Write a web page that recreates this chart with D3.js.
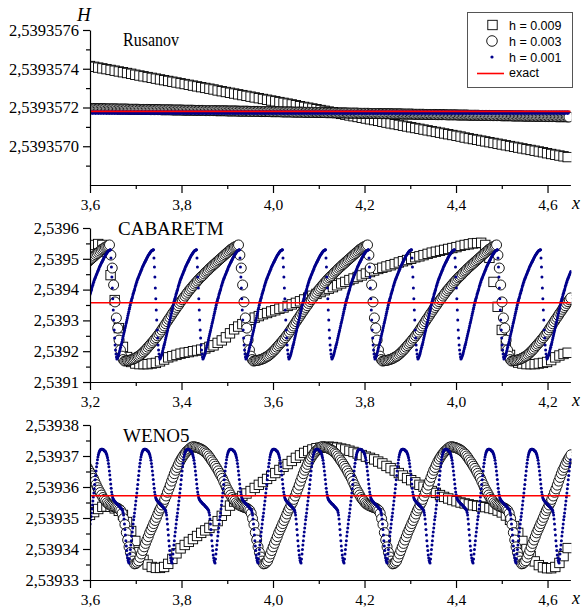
<!DOCTYPE html>
<html>
<head>
<meta charset="utf-8">
<script src="https://cdn.jsdelivr.net/npm/d3@7"></script>
<style>
  body { margin: 0; background: #fff; }
  svg { display: block; }
  .axis path, .axis line { stroke: #000; stroke-width: 1.2; }
  .axis text { font-family: "Liberation Serif", "Times New Roman", serif; fill: #000; }
  .yax text { font-size: 16.5px; }
  .xax text { font-size: 15.5px; }
  .serif { font-family: "Liberation Serif", "Times New Roman", serif; fill: #000; }
  .legend text { font-family: "Liberation Sans", Arial, sans-serif; font-size: 12.5px; fill: #000; }
</style>
</head>
<body>
<script>
// ---------------- data ----------------
// exact solution (same in every panel)
var exactH = 2.53935718;

// tick values
var xTicksA = [3.6, 3.8, 4.0, 4.2, 4.4, 4.6], xMinorA = [3.7, 3.9, 4.1, 4.3, 4.5];
var xTicksB = [3.2, 3.4, 3.6, 3.8, 4.0, 4.2], xMinorB = [3.3, 3.5, 3.7, 3.9, 4.1];
var rusTicks = [2.5393570, 2.5393572, 2.5393574, 2.5393576];
var rusMinor = [2.5393569, 2.5393571, 2.5393573, 2.5393575];
var cabTicks = [2.5391, 2.5392, 2.5393, 2.5394, 2.5395, 2.5396];
var cabMinor = [2.53915, 2.53925, 2.53935, 2.53945, 2.53955];
var wenoTicks = [2.53933, 2.53934, 2.53935, 2.53936, 2.53937, 2.53938];
var wenoMinor = [2.539335, 2.539345, 2.539355, 2.539365, 2.539375];

// Rusanov: h = 0.009, points from x = 3.6 every 0.009
var rusSquares = [
  2.539357414, 2.539357410, 2.539357406, 2.539357402, 2.539357398, 2.539357394, 2.539357390, 2.539357386, 2.539357382, 2.539357378,
  2.539357374, 2.539357369, 2.539357365, 2.539357361, 2.539357357, 2.539357353, 2.539357349, 2.539357345, 2.539357341, 2.539357337,
  2.539357333, 2.539357329, 2.539357325, 2.539357321, 2.539357317, 2.539357313, 2.539357309, 2.539357305, 2.539357301, 2.539357297,
  2.539357293, 2.539357288, 2.539357284, 2.539357280, 2.539357276, 2.539357272, 2.539357268, 2.539357264, 2.539357260, 2.539357256,
  2.539357252, 2.539357248, 2.539357244, 2.539357240, 2.539357236, 2.539357232, 2.539357228, 2.539357224, 2.539357220, 2.539357216,
  2.539357212, 2.539357207, 2.539357203, 2.539357199, 2.539357195, 2.539357191, 2.539357187, 2.539357183, 2.539357179, 2.539357175,
  2.539357171, 2.539357167, 2.539357163, 2.539357159, 2.539357155, 2.539357151, 2.539357147, 2.539357143, 2.539357139, 2.539357135,
  2.539357131, 2.539357126, 2.539357122, 2.539357118, 2.539357114, 2.539357110, 2.539357106, 2.539357102, 2.539357098, 2.539357094,
  2.539357090, 2.539357086, 2.539357082, 2.539357078, 2.539357074, 2.539357070, 2.539357066, 2.539357062, 2.539357058, 2.539357054,
  2.539357050, 2.539357045, 2.539357041, 2.539357037, 2.539357033, 2.539357029, 2.539357025, 2.539357021, 2.539357017, 2.539357013,
  2.539357009, 2.539357005, 2.539357001, 2.539356997, 2.539356993, 2.539356989, 2.539356985, 2.539356981, 2.539356977, 2.539356973,
  2.539356969, 2.539356964, 2.539356960, 2.539356956, 2.539356952, 2.539356948, 2.539356944
];
// Rusanov: h = 0.003, points from x = 3.6 every 0.003
var rusCircles = [
  2.539357195, 2.539357195, 2.539357195, 2.539357195,
  2.539357194, 2.539357194, 2.539357194, 2.539357194, 2.539357194, 2.539357194, 2.539357194, 2.539357194,
  2.539357193, 2.539357193, 2.539357193, 2.539357193, 2.539357193, 2.539357193, 2.539357193, 2.539357193,
  2.539357192, 2.539357192, 2.539357192, 2.539357192, 2.539357192, 2.539357192, 2.539357192, 2.539357192,
  2.539357191, 2.539357191, 2.539357191, 2.539357191, 2.539357191, 2.539357191, 2.539357191, 2.539357191,
  2.539357190, 2.539357190, 2.539357190, 2.539357190, 2.539357190, 2.539357190, 2.539357190, 2.539357190,
  2.539357189, 2.539357189, 2.539357189, 2.539357189, 2.539357189, 2.539357189, 2.539357189, 2.539357189,
  2.539357188, 2.539357188, 2.539357188, 2.539357188, 2.539357188, 2.539357188, 2.539357188, 2.539357188,
  2.539357187, 2.539357187, 2.539357187, 2.539357187, 2.539357187, 2.539357187, 2.539357187, 2.539357187,
  2.539357186, 2.539357186, 2.539357186, 2.539357186, 2.539357186, 2.539357186, 2.539357186, 2.539357186,
  2.539357185, 2.539357185, 2.539357185, 2.539357185, 2.539357185, 2.539357185, 2.539357185, 2.539357185,
  2.539357184, 2.539357184, 2.539357184, 2.539357184, 2.539357184, 2.539357184, 2.539357184, 2.539357184,
  2.539357183, 2.539357183, 2.539357183, 2.539357183, 2.539357183, 2.539357183, 2.539357183, 2.539357183,
  2.539357182, 2.539357182, 2.539357182, 2.539357182, 2.539357182, 2.539357182, 2.539357182, 2.539357182,
  2.539357181, 2.539357181, 2.539357181, 2.539357181, 2.539357181, 2.539357181, 2.539357181, 2.539357181,
  2.539357180, 2.539357180, 2.539357180, 2.539357180, 2.539357180, 2.539357180, 2.539357180, 2.539357180,
  2.539357179, 2.539357179, 2.539357179, 2.539357179, 2.539357179, 2.539357179, 2.539357179, 2.539357179,
  2.539357178, 2.539357178, 2.539357178, 2.539357178, 2.539357178, 2.539357178, 2.539357178, 2.539357178,
  2.539357177, 2.539357177, 2.539357177, 2.539357177, 2.539357177, 2.539357177, 2.539357177, 2.539357177,
  2.539357176, 2.539357176, 2.539357176, 2.539357176, 2.539357176, 2.539357176, 2.539357176, 2.539357176,
  2.539357175, 2.539357175, 2.539357175, 2.539357175, 2.539357175, 2.539357175, 2.539357175, 2.539357175,
  2.539357174, 2.539357174, 2.539357174, 2.539357174, 2.539357174, 2.539357174, 2.539357174, 2.539357174,
  2.539357173, 2.539357173, 2.539357173, 2.539357173, 2.539357173, 2.539357173, 2.539357173, 2.539357173,
  2.539357172, 2.539357172, 2.539357172, 2.539357172, 2.539357172, 2.539357172, 2.539357172, 2.539357172,
  2.539357171, 2.539357171, 2.539357171, 2.539357171, 2.539357171, 2.539357171, 2.539357171, 2.539357171,
  2.539357170, 2.539357170, 2.539357170, 2.539357170, 2.539357170, 2.539357170, 2.539357170, 2.539357170,
  2.539357169, 2.539357169, 2.539357169, 2.539357169, 2.539357169, 2.539357169, 2.539357169, 2.539357169,
  2.539357168, 2.539357168, 2.539357168, 2.539357168, 2.539357168, 2.539357168, 2.539357168, 2.539357168,
  2.539357167, 2.539357167, 2.539357167, 2.539357167, 2.539357167, 2.539357167, 2.539357167, 2.539357167,
  2.539357166, 2.539357166, 2.539357166, 2.539357166, 2.539357166, 2.539357166, 2.539357166, 2.539357166,
  2.539357165, 2.539357165, 2.539357165, 2.539357165, 2.539357165, 2.539357165, 2.539357165, 2.539357165,
  2.539357164, 2.539357164, 2.539357164, 2.539357164, 2.539357164, 2.539357164, 2.539357164, 2.539357164,
  2.539357163, 2.539357163, 2.539357163, 2.539357163, 2.539357163, 2.539357163, 2.539357163, 2.539357163,
  2.539357162, 2.539357162, 2.539357162, 2.539357162, 2.539357162, 2.539357162, 2.539357162, 2.539357162,
  2.539357161, 2.539357161, 2.539357161, 2.539357161, 2.539357161, 2.539357161, 2.539357161, 2.539357161,
  2.539357160, 2.539357160, 2.539357160, 2.539357160, 2.539357160, 2.539357160, 2.539357160, 2.539357160,
  2.539357159, 2.539357159, 2.539357159, 2.539357159, 2.539357159, 2.539357159, 2.539357159, 2.539357159,
  2.539357158, 2.539357158, 2.539357158, 2.539357158, 2.539357158, 2.539357158, 2.539357158, 2.539357158,
  2.539357157, 2.539357157, 2.539357157, 2.539357157, 2.539357157, 2.539357157, 2.539357157, 2.539357157,
  2.539357156, 2.539357156, 2.539357156, 2.539357156, 2.539357156, 2.539357156, 2.539357156, 2.539357156,
  2.539357155, 2.539357155, 2.539357155, 2.539357155, 2.539357155, 2.539357155, 2.539357155, 2.539357155,
  2.539357154, 2.539357154, 2.539357154, 2.539357154, 2.539357154, 2.539357154, 2.539357154, 2.539357154,
  2.539357153, 2.539357153, 2.539357153, 2.539357153, 2.539357153, 2.539357153, 2.539357153, 2.539357153,
  2.539357152, 2.539357152, 2.539357152, 2.539357152, 2.539357152, 2.539357152, 2.539357152, 2.539357152,
  2.539357151, 2.539357151
];
// Rusanov: h = 0.001, points from x = 3.6 (drawn every 0.006, they merge into a line)
var rusDots = [
  2.539357174, 2.539357174, 2.539357174, 2.539357174, 2.539357174, 2.539357174, 2.539357174, 2.539357174, 2.539357174, 2.539357174,
  2.539357174, 2.539357174, 2.539357174, 2.539357174, 2.539357174, 2.539357174, 2.539357174, 2.539357174, 2.539357174, 2.539357174,
  2.539357174, 2.539357174, 2.539357174, 2.539357174, 2.539357174, 2.539357174, 2.539357174, 2.539357174, 2.539357174, 2.539357174,
  2.539357174, 2.539357174, 2.539357174, 2.539357174, 2.539357174, 2.539357174, 2.539357174, 2.539357174, 2.539357174, 2.539357174,
  2.539357174, 2.539357174, 2.539357174, 2.539357174, 2.539357174, 2.539357174, 2.539357174, 2.539357174, 2.539357174, 2.539357174,
  2.539357174, 2.539357174, 2.539357174, 2.539357174, 2.539357174, 2.539357174, 2.539357174, 2.539357174, 2.539357174, 2.539357174,
  2.539357174, 2.539357174, 2.539357174, 2.539357174, 2.539357174, 2.539357174, 2.539357174, 2.539357174, 2.539357174, 2.539357174,
  2.539357174, 2.539357174, 2.539357174, 2.539357174, 2.539357174, 2.539357174, 2.539357174, 2.539357174, 2.539357174, 2.539357174,
  2.539357174, 2.539357174, 2.539357174, 2.539357174, 2.539357174, 2.539357174, 2.539357174, 2.539357174, 2.539357174, 2.539357174,
  2.539357174, 2.539357174, 2.539357174, 2.539357174, 2.539357174, 2.539357174, 2.539357174, 2.539357174, 2.539357174, 2.539357174,
  2.539357174, 2.539357174, 2.539357174, 2.539357174, 2.539357174, 2.539357174, 2.539357174, 2.539357174, 2.539357174, 2.539357174,
  2.539357174, 2.539357174, 2.539357174, 2.539357174, 2.539357174, 2.539357174, 2.539357174, 2.539357174, 2.539357174, 2.539357174,
  2.539357174, 2.539357174, 2.539357174, 2.539357174, 2.539357174, 2.539357174, 2.539357174, 2.539357174, 2.539357174, 2.539357174,
  2.539357174, 2.539357174, 2.539357174, 2.539357174, 2.539357174, 2.539357174, 2.539357174, 2.539357174, 2.539357174, 2.539357174,
  2.539357174, 2.539357174, 2.539357174, 2.539357174, 2.539357174, 2.539357174, 2.539357174, 2.539357174, 2.539357174, 2.539357174,
  2.539357174, 2.539357174, 2.539357174, 2.539357174, 2.539357174, 2.539357174, 2.539357174, 2.539357174, 2.539357174, 2.539357174,
  2.539357174, 2.539357174, 2.539357174, 2.539357174, 2.539357174, 2.539357174, 2.539357174, 2.539357174, 2.539357174, 2.539357174,
  2.539357174, 2.539357174, 2.539357174, 2.539357174, 2.539357174
];

// CABARETM: h = 0.009, points from x = 3.2 every 0.009
var cabSquares = [
  2.539538, 2.539545, 2.539548, 2.539545, 2.539522, 2.539447, 2.539366, 2.539275, 2.539214, 2.539181,
  2.539165, 2.539160, 2.539158, 2.539158, 2.539158, 2.539160, 2.539162, 2.539167, 2.539173, 2.539180,
  2.539184, 2.539188, 2.539192, 2.539195, 2.539197, 2.539200, 2.539202, 2.539205, 2.539209, 2.539214,
  2.539219, 2.539227, 2.539235, 2.539245, 2.539258, 2.539271, 2.539280, 2.539288, 2.539295, 2.539302,
  2.539309, 2.539314, 2.539320, 2.539324, 2.539329, 2.539333, 2.539338, 2.539342, 2.539347, 2.539352,
  2.539357, 2.539362, 2.539368, 2.539374, 2.539380, 2.539386, 2.539392, 2.539398, 2.539403, 2.539408,
  2.539414, 2.539420, 2.539425, 2.539431, 2.539436, 2.539441, 2.539446, 2.539452, 2.539457, 2.539462,
  2.539467, 2.539471, 2.539475, 2.539479, 2.539483, 2.539488, 2.539492, 2.539496, 2.539500, 2.539505,
  2.539508, 2.539512, 2.539516, 2.539520, 2.539523, 2.539526, 2.539529, 2.539532, 2.539535, 2.539538,
  2.539542, 2.539545, 2.539547, 2.539550, 2.539551, 2.539552, 2.539545, 2.539503, 2.539425, 2.539344,
  2.539269, 2.539217, 2.539188, 2.539171, 2.539163, 2.539160, 2.539158, 2.539158, 2.539158, 2.539160,
  2.539162, 2.539165, 2.539171, 2.539180, 2.539186, 2.539191, 2.539195
];
// CABARETM: h = 0.003, one wave period (94 points, step 0.003) and x of its first point
var cabCirclesWave = [
  2.539545, 2.539512, 2.539470, 2.539415, 2.539360, 2.539308, 2.539275, 2.539236, 2.539204, 2.539184, 2.539173,
  2.539168, 2.539169, 2.539170, 2.539170, 2.539171, 2.539173, 2.539174, 2.539176, 2.539178, 2.539181,
  2.539183, 2.539186, 2.539190, 2.539194, 2.539198, 2.539203, 2.539207, 2.539213, 2.539218, 2.539223,
  2.539228, 2.539233, 2.539239, 2.539244, 2.539250, 2.539256, 2.539262, 2.539269, 2.539276, 2.539282,
  2.539289, 2.539296, 2.539303, 2.539309, 2.539316, 2.539323, 2.539329, 2.539336, 2.539342, 2.539348,
  2.539355, 2.539361, 2.539367, 2.539373, 2.539379, 2.539385, 2.539391, 2.539397, 2.539402, 2.539407,
  2.539413, 2.539418, 2.539423, 2.539428, 2.539433, 2.539438, 2.539442, 2.539446, 2.539451, 2.539456,
  2.539460, 2.539464, 2.539469, 2.539473, 2.539477, 2.539481, 2.539485, 2.539489, 2.539493, 2.539497,
  2.539501, 2.539505, 2.539509, 2.539513, 2.539517, 2.539521, 2.539525, 2.539529, 2.539532, 2.539535,
  2.539538, 2.539540, 2.539542
];
var cabCirclesX0 = 2.9606;
// CABARETM: h = 0.001, one wave period (94 points, step 0.001) and x of its first point
var cabDotsWave = [
  2.539529, 2.539503, 2.539473, 2.539441, 2.539405, 2.539370, 2.539334, 2.539301, 2.539269, 2.539243,
  2.539220, 2.539204, 2.539191, 2.539181, 2.539175,
  2.539178, 2.539181, 2.539185, 2.539189, 2.539195, 2.539201, 2.539207, 2.539213, 2.539219, 2.539224,
  2.539230, 2.539237, 2.539244, 2.539250, 2.539257, 2.539263, 2.539269, 2.539276, 2.539283, 2.539290,
  2.539296, 2.539302, 2.539309, 2.539316, 2.539322, 2.539329, 2.539336, 2.539342, 2.539349, 2.539356,
  2.539362, 2.539367, 2.539372, 2.539377, 2.539383, 2.539388, 2.539393, 2.539398, 2.539403, 2.539409,
  2.539414, 2.539419, 2.539424, 2.539429, 2.539433, 2.539436, 2.539440, 2.539444, 2.539448, 2.539451,
  2.539455, 2.539459, 2.539462, 2.539466, 2.539470, 2.539474, 2.539477, 2.539480, 2.539483, 2.539486,
  2.539489, 2.539492, 2.539495, 2.539498, 2.539501, 2.539504, 2.539507, 2.539510, 2.539512, 2.539514,
  2.539516, 2.539519, 2.539521, 2.539523, 2.539525, 2.539526, 2.539527, 2.539528, 2.539529
];
var cabDotsX0 = 3.1508;

// WENO5: h = 0.009, points from x = 3.6 every 0.009
var wenoSquares = [
  2.5393510, 2.5393519, 2.5393529, 2.5393536, 2.5393537, 2.5393536, 2.5393531, 2.5393523, 2.5393510, 2.5393487,
  2.5393458, 2.5393426, 2.5393390, 2.5393365, 2.5393350, 2.5393342, 2.5393339, 2.5393339, 2.5393342, 2.5393352,
  2.5393368, 2.5393386, 2.5393402, 2.5393413, 2.5393423, 2.5393432, 2.5393442, 2.5393452, 2.5393460, 2.5393468,
  2.5393477, 2.5393490, 2.5393507, 2.5393523, 2.5393540, 2.5393553, 2.5393563, 2.5393571, 2.5393579, 2.5393587,
  2.5393597, 2.5393607, 2.5393616, 2.5393626, 2.5393636, 2.5393645, 2.5393655, 2.5393665, 2.5393674, 2.5393684,
  2.5393694, 2.5393702, 2.5393710, 2.5393716, 2.5393721, 2.5393725, 2.5393727, 2.5393729, 2.5393730, 2.5393729,
  2.5393727, 2.5393724, 2.5393721, 2.5393717, 2.5393713, 2.5393708, 2.5393703, 2.5393698, 2.5393694, 2.5393689,
  2.5393682, 2.5393676, 2.5393668, 2.5393661, 2.5393653, 2.5393645, 2.5393637, 2.5393629, 2.5393622, 2.5393615,
  2.5393607, 2.5393601, 2.5393594, 2.5393587, 2.5393581, 2.5393574, 2.5393568, 2.5393563, 2.5393558, 2.5393554,
  2.5393550, 2.5393547, 2.5393544, 2.5393541, 2.5393539, 2.5393537, 2.5393535, 2.5393532, 2.5393529, 2.5393524,
  2.5393518, 2.5393508, 2.5393494, 2.5393474, 2.5393452, 2.5393426, 2.5393400, 2.5393377, 2.5393360, 2.5393348,
  2.5393341, 2.5393338, 2.5393338, 2.5393342, 2.5393355, 2.5393377, 2.5393403
];
// WENO5: h = 0.003, one wave period (94 points, step 0.003) and x of its first point
var wenoCirclesWave = [
  2.5393352, 2.5393353, 2.5393357, 2.5393362, 2.5393373, 2.5393384, 2.5393395, 2.5393407, 2.5393418, 2.5393429,
  2.5393440, 2.5393452, 2.5393462, 2.5393472, 2.5393482, 2.5393492, 2.5393502, 2.5393513, 2.5393524, 2.5393532,
  2.5393542, 2.5393550, 2.5393560, 2.5393571, 2.5393583, 2.5393594, 2.5393606, 2.5393619, 2.5393631, 2.5393643,
  2.5393654, 2.5393663, 2.5393673, 2.5393682, 2.5393690, 2.5393697, 2.5393704, 2.5393709, 2.5393715, 2.5393719,
  2.5393723, 2.5393727,
  2.5393729, 2.5393730, 2.5393729, 2.5393728, 2.5393727, 2.5393725, 2.5393723, 2.5393721, 2.5393718, 2.5393714,
  2.5393710, 2.5393706, 2.5393700, 2.5393694, 2.5393687, 2.5393681, 2.5393674, 2.5393667, 2.5393660, 2.5393652,
  2.5393644, 2.5393636, 2.5393628, 2.5393618, 2.5393608, 2.5393598, 2.5393590, 2.5393582, 2.5393574, 2.5393566,
  2.5393560, 2.5393555, 2.5393549, 2.5393545, 2.5393542, 2.5393540, 2.5393538, 2.5393536, 2.5393534, 2.5393533,
  2.5393531, 2.5393528, 2.5393524, 2.5393515, 2.5393498, 2.5393479, 2.5393453, 2.5393429, 2.5393407, 2.5393389,
  2.5393374, 2.5393361
];
var wenoCirclesX0 = 3.4153;
// WENO5: h = 0.001, one wave period (94 points, step 0.001) and x of its first point
var wenoDotsWave = [
  2.5393355, 2.5393368, 2.5393384, 2.5393398, 2.5393413, 2.5393427, 2.5393442, 2.5393455, 2.5393468, 2.5393481,
  2.5393494, 2.5393505, 2.5393516, 2.5393529, 2.5393542, 2.5393555, 2.5393568, 2.5393581, 2.5393594, 2.5393608,
  2.5393623, 2.5393637, 2.5393652, 2.5393665, 2.5393677, 2.5393688, 2.5393697, 2.5393704, 2.5393710, 2.5393714,
  2.5393717, 2.5393719, 2.5393721, 2.5393722, 2.5393722, 2.5393722, 2.5393722, 2.5393721, 2.5393720, 2.5393719,
  2.5393717, 2.5393716, 2.5393715, 2.5393713, 2.5393710, 2.5393706, 2.5393700, 2.5393694, 2.5393686, 2.5393676,
  2.5393665, 2.5393652, 2.5393639, 2.5393624, 2.5393610, 2.5393596, 2.5393584, 2.5393575, 2.5393568, 2.5393563,
  2.5393560, 2.5393557, 2.5393555, 2.5393553, 2.5393552, 2.5393550, 2.5393548, 2.5393546, 2.5393545, 2.5393544,
  2.5393543, 2.5393541, 2.5393539, 2.5393537, 2.5393536, 2.5393534, 2.5393533, 2.5393531, 2.5393529, 2.5393527,
  2.5393524, 2.5393518, 2.5393510, 2.5393497, 2.5393481, 2.5393463, 2.5393445, 2.5393427, 2.5393410, 2.5393395,
  2.5393381, 2.5393371, 2.5393363, 2.5393358
];
var wenoDotsX0 = 3.5913;

var legendLabels = ["h = 0.009", "h = 0.003", "h = 0.001", "exact"];

// ---------------- helpers ----------------
// values on a uniform x grid
function grid(values, x0, step) {
  return values.map(function(v, i) { return [x0 + i * step, v]; });
}
// repeat one period of a travelling wave along the axis
function tile(wave, x0, step, xMax) {
  var pts = [];
  for (var i = 0; x0 + i * step <= xMax + step; i++) {
    pts.push([x0 + i * step, wave[i % wave.length]]);
  }
  return pts;
}
function comma(spec) {
  var f = d3.format(spec);
  return function(d) { return f(d).replace(".", ","); };
}

var left = 90, right = 570.4;
var blue = "#00008b";

var panels = [
  { id: "rus", name: "Rusanov", top: 30, bottom: 185, xDomain: [3.6, 4.65], yDomain: [2.5393568, 2.5393576],
    yMajor: rusTicks, yMinor: rusMinor, yFmt: ".7f", xMajor: xTicksA, xMinor: xMinorA,
    squares: grid(rusSquares, 3.6, 0.009), circles: grid(rusCircles, 3.6, 0.003), dots: grid(rusDots, 3.6, 0.006),
    dotR: 2.4, titleX: 123, titleY: 46, titleSize: 18, titleLen: 56 },
  { id: "cab", name: "CABARETM", top: 228, bottom: 382, xDomain: [3.2, 4.25], yDomain: [2.5391, 2.5396],
    yMajor: cabTicks, yMinor: cabMinor, yFmt: ".4f", xMajor: xTicksB, xMinor: xMinorB,
    squares: grid(cabSquares, 3.2, 0.009), circles: tile(cabCirclesWave, cabCirclesX0, 0.003, 4.25),
    dots: tile(cabDotsWave, cabDotsX0, 0.001, 4.25),
    dotR: 1.5, titleX: 118, titleY: 235, titleSize: 19 },
  { id: "weno", name: "WENO5", top: 425, bottom: 580, xDomain: [3.6, 4.65], yDomain: [2.53933, 2.53938],
    yMajor: wenoTicks, yMinor: wenoMinor, yFmt: ".5f", xMajor: xTicksA, xMinor: xMinorA,
    squares: grid(wenoSquares, 3.6, 0.009), circles: tile(wenoCirclesWave, wenoCirclesX0, 0.003, 4.65),
    dots: tile(wenoDotsWave, wenoDotsX0, 0.001, 4.65),
    dotR: 1.5, titleX: 123, titleY: 442, titleSize: 19 }
];

// ---------------- drawing ----------------
var svg = d3.select("body").append("svg")
  .attr("width", 584)
  .attr("height", 608);

panels.forEach(function(p) {
  var x = d3.scaleLinear().domain(p.xDomain).range([left, right]);
  var y = d3.scaleLinear().domain(p.yDomain).range([p.bottom, p.top]);

  svg.append("clipPath").attr("id", "clip-" + p.id)
    .append("rect")
    .attr("x", left).attr("y", p.top - 20)
    .attr("width", right - left + 1).attr("height", p.bottom - p.top + 40);

  var plot = svg.append("g").attr("clip-path", "url(#clip-" + p.id + ")");

  // h = 0.009
  plot.selectAll(null).data(p.squares).enter().append("rect")
    .attr("x", function(d) { return x(d[0]) - 4.7; })
    .attr("y", function(d) { return y(d[1]) - 4.7; })
    .attr("width", 9.4).attr("height", 9.4)
    .attr("fill", "#fff").attr("stroke", "#000").attr("stroke-width", 0.9);

  // h = 0.003
  plot.selectAll(null).data(p.circles).enter().append("circle")
    .attr("cx", function(d) { return x(d[0]); })
    .attr("cy", function(d) { return y(d[1]); })
    .attr("r", 5)
    .attr("fill", "#fff").attr("stroke", "#000").attr("stroke-width", 0.9);

  // h = 0.001
  plot.selectAll(null).data(p.dots).enter().append("circle")
    .attr("cx", function(d) { return x(d[0]); })
    .attr("cy", function(d) { return y(d[1]); })
    .attr("r", p.dotR)
    .attr("fill", blue);

  // exact
  plot.append("path")
    .datum([[p.xDomain[0], exactH], [p.xDomain[1], exactH]])
    .attr("d", d3.line().x(function(d) { return x(d[0]); }).y(function(d) { return y(d[1]); }))
    .attr("stroke", "#ff0000").attr("stroke-width", 1.6).attr("fill", "none");

  // axes
  svg.append("g").attr("class", "axis yax")
    .attr("transform", "translate(" + left + ",0)")
    .call(d3.axisLeft(y).tickValues(p.yMajor).tickSize(7).tickSizeOuter(0).tickPadding(4).tickFormat(comma(p.yFmt)));
  svg.append("g").attr("class", "axis")
    .attr("transform", "translate(" + left + ",0)")
    .call(d3.axisLeft(y).tickValues(p.yMinor).tickSize(4).tickFormat(""))
    .select(".domain").remove();

  svg.append("g").attr("class", "axis xax")
    .attr("transform", "translate(0," + p.bottom + ")")
    .call(d3.axisBottom(x).tickValues(p.xMajor).tickSize(8).tickSizeOuter(0).tickPadding(6).tickFormat(comma(".1f")));
  svg.append("g").attr("class", "axis")
    .attr("transform", "translate(0," + p.bottom + ")")
    .call(d3.axisBottom(x).tickValues(p.xMinor).tickSize(4).tickFormat(""))
    .select(".domain").remove();

  svg.append("text").attr("class", "serif")
    .attr("x", 572).attr("y", p.bottom + 24)
    .style("font-size", "18px").style("font-style", "italic")
    .text("x");

  var t = svg.append("text").attr("class", "serif")
    .attr("x", p.titleX).attr("y", p.titleY)
    .style("font-size", p.titleSize + "px")
    .text(p.name);
  if (p.titleLen) t.attr("textLength", p.titleLen).attr("lengthAdjust", "spacingAndGlyphs");
});

svg.append("text").attr("class", "serif")
  .attr("x", 77).attr("y", 21)
  .style("font-size", "19px").style("font-style", "italic")
  .text("H");

// legend
var lg = svg.append("g").attr("class", "legend");
lg.append("rect")
  .attr("x", 467.5).attr("y", 12.5).attr("width", 105).attr("height", 75)
  .attr("fill", "#fff").attr("stroke", "#555").attr("stroke-width", 1);

var rowY = [25, 41, 57, 72.5];
lg.append("rect").attr("x", 492.5 - 4.7).attr("y", rowY[0] - 4.7).attr("width", 9.4).attr("height", 9.4)
  .attr("fill", "#fff").attr("stroke", "#000").attr("stroke-width", 0.9);
lg.append("circle").attr("cx", 492).attr("cy", rowY[1]).attr("r", 5.3)
  .attr("fill", "#fff").attr("stroke", "#000").attr("stroke-width", 0.9);
lg.append("circle").attr("cx", 492).attr("cy", rowY[2]).attr("r", 1.6).attr("fill", blue);
lg.append("line").attr("x1", 477).attr("x2", 504).attr("y1", rowY[3] + 1).attr("y2", rowY[3] + 1)
  .attr("stroke", "#ff0000").attr("stroke-width", 1.6);

lg.selectAll("text.lab").data(legendLabels).enter().append("text")
  .attr("class", "lab")
  .attr("x", 509)
  .attr("y", function(d, i) { return rowY[i] + 4.5; })
  .text(function(d) { return d; });
</script>
</body>
</html>
